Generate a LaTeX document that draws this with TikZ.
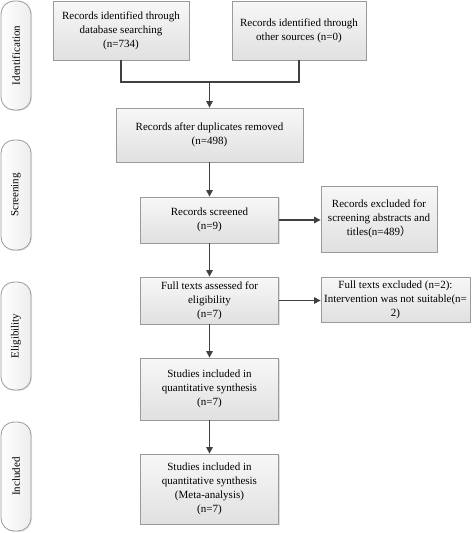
\documentclass[tikz,border=0pt]{standalone}
\usepackage{fontspec}
\setmainfont{Liberation Serif}
\newfontfamily\cjk{Noto Sans CJK SC}
\usetikzlibrary{arrows.meta,shadows}
\definecolor{linegray}{HTML}{404040}
\definecolor{bordergray}{HTML}{9A9A9A}
\begin{document}
\begin{tikzpicture}[x=1pt,y=-1pt,
  box/.style={draw=bordergray, line width=0.8pt, top color=white!97!black, bottom color=white!88!black,
    drop shadow={shadow xshift=1.2pt, shadow yshift=-1.2pt, fill=black!25},
    align=center, inner sep=2pt, font=\fontsize{11}{14}\selectfont, text=black},
  stage/.style={draw=bordergray, line width=0.8pt, rounded corners=13pt, fill=white,
    left color=white, right color=white!93!black,
    drop shadow={shadow xshift=1pt, shadow yshift=-1pt, fill=black!20},
    minimum width=30pt, font=\fontsize{11}{14}\selectfont},
  stagetext/.style={rotate=90, font=\fontsize{11}{14}\selectfont},
  conn/.style={draw=linegray, line width=1.1pt},
  arr/.style={conn, -{Triangle[length=6.5pt,width=6.5pt]}}
]
\useasboundingbox (0,0) rectangle (472,533);

% stage labels
\node[stage, minimum height=109pt] (L1) at (16,55.5) {};
\node[stagetext] (T1) at (L1.center) {Identification};
\node[stage, minimum height=110pt] (L2) at (16,195) {};
\node[stagetext] (T2) at (L2.center) {Screening};
\node[stage, minimum height=108pt] (L3) at (16,336) {};
\node[stagetext] (T3) at (L3.center) {Eligibility};
\node[stage, minimum height=109pt] (L4) at (16,476.5) {};
\node[stagetext] (T4) at (L4.center) {Included};

% boxes
\node[box, minimum width=136pt, minimum height=59pt] (A) at (121,30.5)
  {Records identified through\\database searching\\(n=734)};
\node[box, minimum width=134pt, minimum height=59pt] (B) at (299,30.5)
  {Records identified through\\other sources (n=0)};
\node[box, minimum width=187pt, minimum height=54pt] (C) at (209.5,135)
  {Records after duplicates removed\\(n=498)};
\node[box, minimum width=138pt, minimum height=46pt] (D) at (209.5,220)
  {Records screened\\(n=9)};
\node[box, minimum width=116pt, minimum height=66pt] (E) at (379,219)
  {Records excluded for\\screening abstracts and\\titles(n=489{\cjk ）}};
\node[box, minimum width=138pt, minimum height=47pt] (F) at (209.5,300.5)
  {Full texts assessed for\\eligibility\\(n=7)};
\node[box, minimum width=149pt, minimum height=45pt] (G) at (395.5,299.5)
  {Full texts excluded (n=2):\\Intervention was not suitable(n=\\2)};
\node[box, minimum width=138pt, minimum height=62pt] (H) at (209.5,389)
  {Studies included in\\quantitative synthesis\\(n=7)};
\node[box, minimum width=138pt, minimum height=70pt] (I) at (209.5,489)
  {Studies included in\\quantitative synthesis\\(Meta-analysis)\\(n=7)};

% connectors
\coordinate (mA) at (121,82);
\coordinate (mB) at (299,82);
\coordinate (mC) at (209.5,82);
\draw[conn] (A.south) -- (mA) -- (mB) -- (B.south);
\draw[arr] (mC) -- (C.north);
\draw[arr] (C.south) -- (D.north);
\draw[arr] (D.east) -- (D.east -| E.west);
\draw[arr] (D.south) -- (F.north);
\draw[arr] (F.east) -- (F.east -| G.west);
\draw[arr] (F.south) -- (H.north);
\draw[arr] (H.south) -- (I.north);
\end{tikzpicture}
\end{document}
